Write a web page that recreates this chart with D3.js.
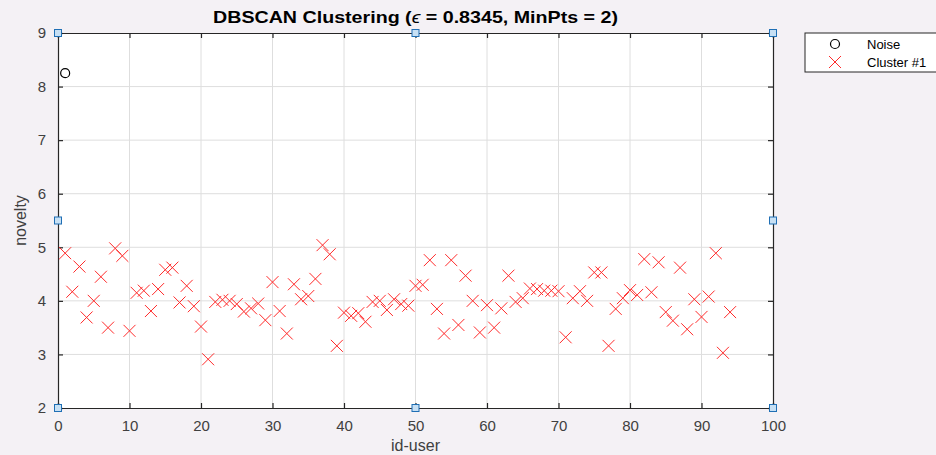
<!DOCTYPE html>
<html lang="en">
<head>
    <meta charset="UTF-8">
    <title>DBSCAN Clustering</title>
    <script src="https://d3js.org/d3.v7.min.js"></script>
    <style>
        body {
            margin: 0;
            background: #f4f1f5;
            font-family: "Liberation Sans", Arial, sans-serif;
        }
        svg { display: block; }
    </style>
</head>
<body>
    <svg id="chart" width="936" height="455"></svg>

    <script>
        // noise point(s)
        const noiseIds = [1];
        const noiseValues = [8.25];

        // cluster #1
        const clusterIds = [
            1, 2, 3, 4, 5, 6, 7, 8, 9, 10,
            11, 12, 13, 14, 15, 16, 17, 18, 19, 20,
            21, 22, 23, 24, 25, 26, 27, 28, 29, 30,
            31, 32, 33, 34, 35, 36, 37, 38, 39, 40,
            41, 42, 43, 44, 45, 46, 47, 48, 49, 50,
            51, 52, 53, 54, 55, 56, 57, 58, 59, 60,
            61, 62, 63, 64, 65, 66, 67, 68, 69, 70,
            71, 72, 73, 74, 75, 76, 77, 78, 79, 80,
            81, 82, 83, 84, 85, 86, 87, 88, 89, 90,
            91, 92, 93, 94
        ];
        const clusterValues = [
            4.89, 4.17, 4.64, 3.69, 4.00, 4.45, 3.50, 4.98, 4.84, 3.44,
            4.15, 4.19, 3.81, 4.22, 4.58, 4.62, 3.97, 4.28, 3.90, 3.52,
            2.91, 3.98, 4.02, 4.00, 3.94, 3.80, 3.86, 3.95, 3.64, 4.35,
            3.81, 3.39, 4.31, 4.03, 4.09, 4.41, 5.04, 4.87, 3.16, 3.78,
            3.72, 3.77, 3.61, 3.98, 4.00, 3.83, 4.03, 3.94, 3.91, 4.28,
            4.30, 4.76, 3.85, 3.39, 4.76, 3.55, 4.47, 4.00, 3.41, 3.92,
            3.50, 3.86, 4.47, 3.98, 4.05, 4.23, 4.22, 4.19, 4.19, 4.18,
            3.32, 4.05, 4.18, 4.00, 4.53, 4.53, 3.16, 3.85, 4.05, 4.20,
            4.11, 4.78, 4.16, 4.72, 3.79, 3.63, 4.62, 3.47, 4.03, 3.70,
            4.08, 4.89, 3.03, 3.79
        ];

        const xTicks = [0, 10, 20, 30, 40, 50, 60, 70, 80, 90, 100];
        const yTicks = [2, 3, 4, 5, 6, 7, 8, 9];
        const legendLabels = ['Noise', 'Cluster #1'];

        const svg = d3.select('#chart');
        const margin = { top: 33, right: 163, bottom: 47, left: 58 };
        const width = 936 - margin.left - margin.right;
        const height = 455 - margin.top - margin.bottom;

        const x = d3.scaleLinear().domain([0, 100]).range([0, width]);
        const y = d3.scaleLinear().domain([2, 9]).range([height, 0]);

        const g = svg.append('g')
            .attr('transform', `translate(${margin.left},${margin.top})`);

        // plot background
        g.append('rect')
            .attr('width', width)
            .attr('height', height)
            .attr('fill', '#ffffff');

        // grid
        g.append('g')
            .selectAll('line')
            .data(xTicks.slice(1, -1))
            .join('line')
            .attr('x1', d => x(d)).attr('x2', d => x(d))
            .attr('y1', 0).attr('y2', height)
            .attr('stroke', '#dedede')
            .attr('stroke-width', 1);
        g.append('g')
            .selectAll('line')
            .data(yTicks.slice(1, -1))
            .join('line')
            .attr('y1', d => y(d)).attr('y2', d => y(d))
            .attr('x1', 0).attr('x2', width)
            .attr('stroke', '#dedede')
            .attr('stroke-width', 1);

        // axes (MATLAB style: ticks inside, box on all sides)
        const tickLen = 5;
        const axisColor = '#262626';
        const labelColor = '#404040';

        const xAxis = g.append('g')
            .attr('transform', `translate(0,${height})`)
            .call(d3.axisBottom(x).tickValues(xTicks).tickSize(-tickLen).tickPadding(12));
        const yAxis = g.append('g')
            .call(d3.axisLeft(y).tickValues(yTicks).tickFormat(d3.format('d')).tickSize(-tickLen).tickPadding(12));
        const xTop = g.append('g')
            .call(d3.axisTop(x).tickValues(xTicks).tickSize(-tickLen).tickFormat(''));
        const yRight = g.append('g')
            .attr('transform', `translate(${width},0)`)
            .call(d3.axisRight(y).tickValues(yTicks).tickSize(-tickLen).tickFormat(''));

        [xAxis, yAxis, xTop, yRight].forEach(a => {
            a.select('.domain').attr('stroke', axisColor).attr('stroke-width', 1.2);
            a.selectAll('.tick line').attr('stroke', axisColor).attr('stroke-width', 1.2);
            a.selectAll('.tick text')
                .attr('fill', labelColor)
                .attr('font-size', 15)
                .attr('font-family', '"Liberation Sans", Arial, sans-serif');
        });

        // cluster markers (x)
        const cross = 6;
        const crossPath = (cx, cy) =>
            `M${cx - cross},${cy - cross}L${cx + cross},${cy + cross}M${cx - cross},${cy + cross}L${cx + cross},${cy - cross}`;

        g.append('g')
            .attr('class', 'cluster')
            .selectAll('path')
            .data(clusterIds.map((id, i) => ({ id, v: clusterValues[i] })))
            .join('path')
            .attr('d', d => crossPath(x(d.id), y(d.v)))
            .style('stroke', '#ff2a2a')
            .style('stroke-width', 1)
            .style('fill', 'none');

        // noise markers (o)
        g.append('g')
            .selectAll('circle')
            .data(noiseIds.map((id, i) => ({ id, v: noiseValues[i] })))
            .join('circle')
            .attr('cx', d => x(d.id))
            .attr('cy', d => y(d.v))
            .attr('r', 4.5)
            .attr('fill', 'none')
            .attr('stroke', '#000')
            .attr('stroke-width', 1.2);

        // selection handles on the axes
        const handles = [];
        [0, 50, 100].forEach(hx => {
            handles.push([hx, 9]);
            handles.push([hx, 2]);
        });
        handles.push([0, 5.5], [100, 5.5]);
        g.append('g')
            .selectAll('rect')
            .data(handles)
            .join('rect')
            .attr('x', d => x(d[0]) - 3.5)
            .attr('y', d => y(d[1]) - 3.5)
            .attr('width', 7)
            .attr('height', 7)
            .attr('fill', '#c7e0f4')
            .attr('stroke', '#1f6fb5')
            .attr('stroke-width', 1);

        // title
        const title = svg.append('text')
            .attr('x', margin.left + width / 2)
            .attr('y', 23)
            .attr('text-anchor', 'middle')
            .attr('font-size', 17)
            .attr('font-weight', 'bold')
            .attr('fill', '#000')
            .attr('textLength', 405)
            .attr('lengthAdjust', 'spacingAndGlyphs');
        title.append('tspan').text('DBSCAN Clustering (');
        title.append('tspan').attr('font-weight', 'normal').attr('font-style', 'italic').text('ϵ');
        title.append('tspan').text(' = 0.8345, MinPts = 2)');

        // axis labels
        svg.append('text')
            .attr('x', margin.left + width / 2)
            .attr('y', 451)
            .attr('text-anchor', 'middle')
            .attr('font-size', 16)
            .attr('fill', labelColor)
            .text('id-user');
        svg.append('text')
            .attr('transform', `translate(26,${margin.top + height / 2}) rotate(-90)`)
            .attr('text-anchor', 'middle')
            .attr('font-size', 16)
            .attr('fill', labelColor)
            .text('novelty');

        // legend
        const legend = svg.append('g').attr('transform', 'translate(805,33)');
        legend.append('rect')
            .attr('width', 150)
            .attr('height', 39)
            .attr('fill', '#ffffff')
            .attr('stroke', '#262626')
            .attr('stroke-width', 1);
        legend.append('circle')
            .attr('cx', 30).attr('cy', 11).attr('r', 4.5)
            .attr('fill', 'none').attr('stroke', '#000').attr('stroke-width', 1.2);
        legend.append('path')
            .attr('d', crossPath(30, 29))
            .style('stroke', '#ff2a2a').style('stroke-width', 1);
        legend.selectAll('text.lab')
            .data(legendLabels)
            .join('text')
            .attr('class', 'lab')
            .attr('x', 62)
            .attr('y', (d, i) => 16 + i * 18)
            .attr('font-size', 13)
            .attr('fill', '#000')
            .text(d => d);
    </script>
</body>
</html>
